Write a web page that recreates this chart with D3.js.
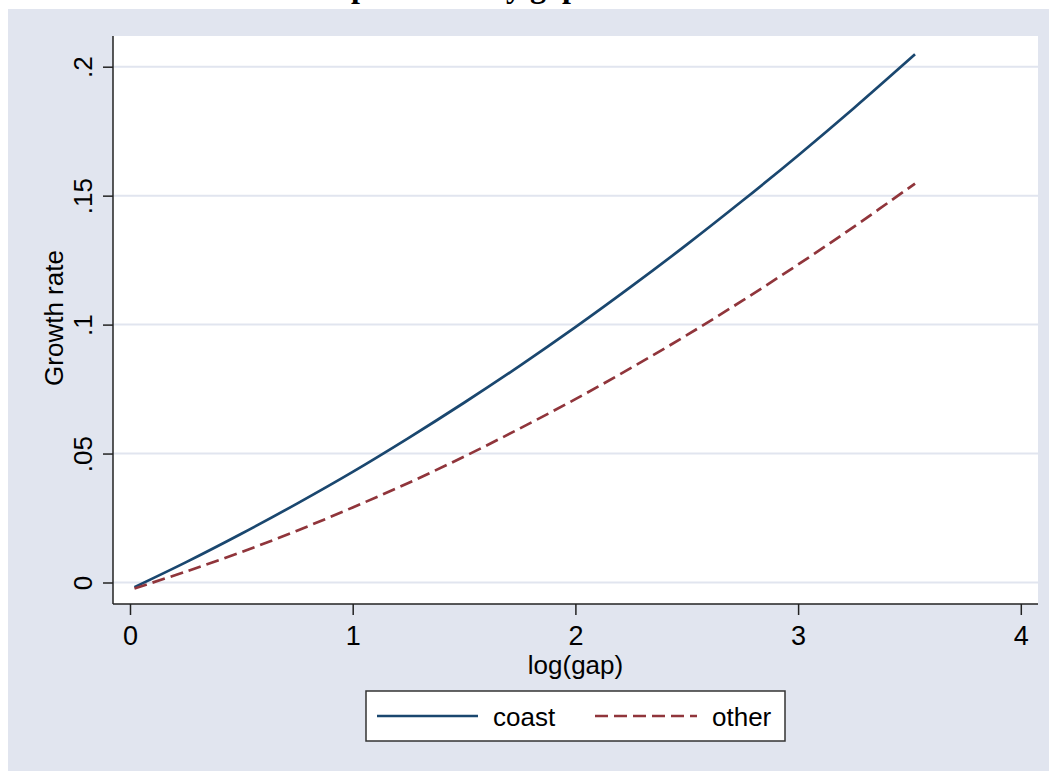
<!DOCTYPE html>
<html>
<head>
<meta charset="utf-8">
<script src="https://cdn.jsdelivr.net/npm/d3@7"></script>
<style>
  html, body { margin: 0; padding: 0; background: #ffffff; }
  svg { display: block; }
</style>
</head>
<body>
<div id="chart"></div>
<script>
// ---- data ----
const titleText = "Growth rate predicted by gap";
const xTitle = "log(gap)";
const yTitle = "Growth rate";
const xTicks = [0, 1, 2, 3, 4];
const xTickLabels = ["0", "1", "2", "3", "4"];
const yTicks = [0, 0.05, 0.1, 0.15, 0.2];
const yTickLabels = ["0", ".05", ".1", ".15", ".2"];
const seriesNames = ["coast", "other"];
const logGap = [0.02, 0.25, 0.5, 0.75, 1.0, 1.25, 1.5, 1.75, 2.0, 2.25, 2.5, 2.75, 3.0, 3.25, 3.525];
const coast = [-0.0018, 0.0078, 0.0189, 0.0306, 0.0429, 0.0560, 0.0697, 0.0840, 0.0990, 0.1147, 0.1310, 0.1480, 0.1656, 0.1839, 0.2048];
const other = [-0.0023, 0.0042, 0.0118, 0.0201, 0.0291, 0.0386, 0.0488, 0.0597, 0.0711, 0.0832, 0.0959, 0.1093, 0.1233, 0.1379, 0.1547];

// ---- layout ----
const W = 1049, H = 771;
const bg = "#e1e5ef";
const navy = "#1a476f", maroon = "#90353b";
const plot = { left: 113, right: 1038, top: 36, bottom: 604 };

const svg = d3.select("#chart").append("svg").attr("width", W).attr("height", H);
svg.append("rect").attr("x", 0).attr("y", 0).attr("width", W).attr("height", H).attr("fill", "#ffffff");
svg.append("rect").attr("x", 8).attr("y", 9).attr("width", W - 8).attr("height", H - 9).attr("fill", bg);

// title (only descenders visible at top of picture)
const title = svg.append("text")
  .attr("y", -3)
  .attr("font-family", "'Liberation Serif', 'Times New Roman', serif")
  .attr("font-weight", "bold")
  .attr("font-size", 32)
  .attr("fill", "#000")
  .text(titleText);
{
  const idx = titleText.indexOf("p");
  const node = title.node();
  title.attr("x", 0);
  const pStart = node.getStartPositionOfChar(idx).x;
  const pEnd = node.getEndPositionOfChar(idx).x;
  title.attr("x", 360 - (pStart + pEnd) / 2);
}

// plot region
svg.append("rect").attr("x", plot.left).attr("y", plot.top)
  .attr("width", plot.right - plot.left).attr("height", plot.bottom - plot.top)
  .attr("fill", "#ffffff");

const x = d3.scaleLinear().domain([0, 4]).range([130, 1020.8]);
const y = d3.scaleLinear().domain([0, 0.2]).range([582.5, 66.7]);

// gridlines
svg.append("g").selectAll("line").data(yTicks).join("line")
  .attr("x1", plot.left).attr("x2", plot.right)
  .attr("y1", d => y(d)).attr("y2", d => y(d))
  .attr("stroke", bg).attr("stroke-width", 2);

const font = "'Liberation Sans', Arial, Helvetica, sans-serif";
const axisColor = "#222";

// y axis
const yAxis = d3.axisLeft(y).tickValues(yTicks).tickSize(10).tickFormat((d, i) => yTickLabels[i]);
const gy = svg.append("g").attr("transform", `translate(${plot.left},0)`).call(yAxis);
gy.select(".domain").attr("d", `M0,${plot.top}V${plot.bottom}`).attr("stroke", axisColor).attr("stroke-width", 1.5);
gy.selectAll(".tick line").attr("stroke", axisColor).attr("stroke-width", 1.5);
gy.selectAll(".tick text")
  .attr("font-family", font).attr("font-size", 26).attr("fill", "#000")
  .attr("x", null).attr("dy", null)
  .attr("text-anchor", "middle")
  .attr("transform", "translate(-21,0) rotate(-90)");

// x axis
const xAxis = d3.axisBottom(x).tickValues(xTicks).tickSize(11).tickFormat((d, i) => xTickLabels[i]);
const gx = svg.append("g").attr("transform", `translate(0,${plot.bottom})`).call(xAxis);
gx.select(".domain").attr("d", `M${plot.left},0H${plot.right}`).attr("stroke", axisColor).attr("stroke-width", 1.5);
gx.selectAll(".tick line").attr("stroke", axisColor).attr("stroke-width", 1.5);
gx.selectAll(".tick text")
  .attr("font-family", font).attr("font-size", 27).attr("fill", "#000")
  .attr("y", 41).attr("dy", null);

// axis titles
svg.append("text").attr("x", (plot.left + plot.right) / 2).attr("y", 674)
  .attr("text-anchor", "middle").attr("font-family", font).attr("font-size", 26).attr("fill", "#000")
  .text(xTitle);
svg.append("text").attr("transform", "translate(63,318) rotate(-90)")
  .attr("text-anchor", "middle").attr("font-family", font).attr("font-size", 26).attr("fill", "#000")
  .text(yTitle);

// lines
const line = d3.line().x(d => x(d[0])).y(d => y(d[1])).curve(d3.curveCatmullRom.alpha(0.5));
const series = [
  { name: seriesNames[0], values: coast, color: navy, dash: null },
  { name: seriesNames[1], values: other, color: maroon, dash: "13,6" }
];
svg.append("g").selectAll("path").data(series).join("path")
  .attr("d", s => line(logGap.map((g, i) => [g, s.values[i]])))
  .attr("fill", "none")
  .attr("stroke", s => s.color)
  .attr("stroke-width", 2.7)
  .attr("stroke-dasharray", s => s.dash);

// legend
const lg = svg.append("g");
lg.append("rect").attr("x", 366).attr("y", 691).attr("width", 419).attr("height", 50)
  .attr("fill", "#fff").attr("stroke", "#333").attr("stroke-width", 1.5);
const legendItems = [
  { s: series[0], x1: 377, x2: 478, tx: 493 },
  { s: series[1], x1: 595, x2: 697, tx: 712 }
];
legendItems.forEach(it => {
  lg.append("line").attr("x1", it.x1).attr("x2", it.x2).attr("y1", 716).attr("y2", 716)
    .attr("stroke", it.s.color).attr("stroke-width", 2.7).attr("stroke-dasharray", it.s.dash);
  lg.append("text").attr("x", it.tx).attr("y", 726)
    .attr("font-family", font).attr("font-size", 26).attr("fill", "#000")
    .text(it.s.name);
});
</script>
</body>
</html>
